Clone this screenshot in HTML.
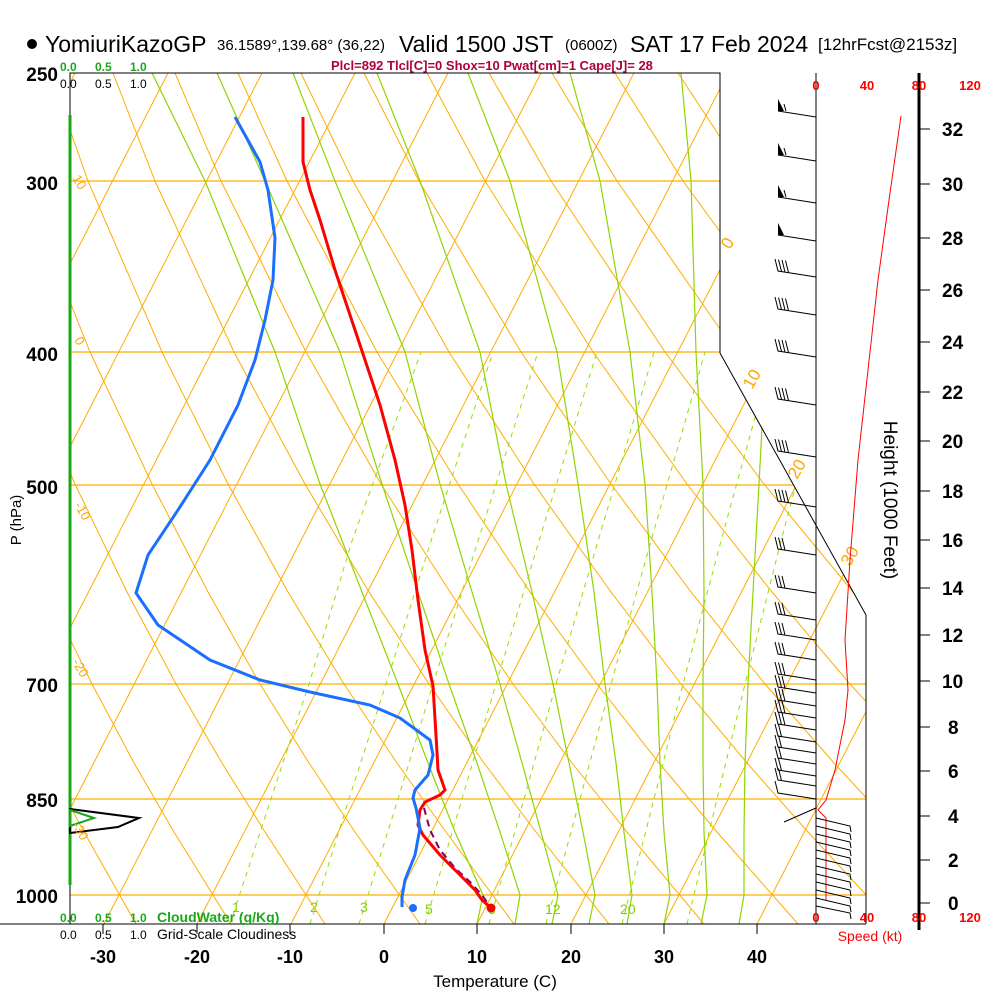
<!DOCTYPE html>
<html><head><meta charset="utf-8">
<style>
html,body{margin:0;padding:0;background:#fff;}
svg{display:block;font-family:"Liberation Sans",sans-serif;}
</style></head>
<body>
<svg width="1000" height="1000" viewBox="0 0 1000 1000" xmlns="http://www.w3.org/2000/svg">
<defs>
<clipPath id="cp"><polygon points="70,73 720,73 720,353 866,615 866,924 70,924"/></clipPath>
</defs>
<g clip-path="url(#cp)" fill="none">
<g stroke="#ffad00" stroke-width="1.3">
<line x1="70" y1="181" x2="870" y2="181"/><line x1="70" y1="352" x2="870" y2="352"/><line x1="70" y1="485" x2="870" y2="485"/><line x1="70" y1="684" x2="870" y2="684"/><line x1="70" y1="799" x2="870" y2="799"/><line x1="70" y1="895" x2="870" y2="895"/>
</g>
<g stroke="#ffad00" stroke-width="1">
<line x1="-642" y1="924" x2="-205" y2="73"/>
<line x1="-549" y1="924" x2="-112" y2="73"/>
<line x1="-455" y1="924" x2="-18" y2="73"/>
<line x1="-362" y1="924" x2="75" y2="73"/>
<line x1="-269" y1="924" x2="168" y2="73"/>
<line x1="-175" y1="924" x2="262" y2="73"/>
<line x1="-82" y1="924" x2="355" y2="73"/>
<line x1="11" y1="924" x2="448" y2="73"/>
<line x1="104" y1="924" x2="541" y2="73"/>
<line x1="197" y1="924" x2="634" y2="73"/>
<line x1="291" y1="924" x2="728" y2="73"/>
<line x1="384" y1="924" x2="821" y2="73"/>
<line x1="477" y1="924" x2="914" y2="73"/>
<line x1="571" y1="924" x2="1008" y2="73"/>
<line x1="664" y1="924" x2="1101" y2="73"/>
<line x1="757" y1="924" x2="1194" y2="73"/>
</g>
<g stroke="#ffad00" stroke-width="1">
<polyline points="41,924 -7,832 -41,763 -77,684 -115,592 -154,484 -197,352 -242,181 -264,73"/>
<polyline points="136,924 84,832 47,763 8,684 -34,592 -78,484 -125,352 -176,181 -202,73"/>
<polyline points="231,924 174,832 134,763 92,684 47,592 -1,484 -53,352 -110,181 -139,73"/>
<polyline points="325,924 265,832 222,763 176,684 127,592 75,484 18,352 -44,181 -76,73"/>
<polyline points="420,924 355,832 309,763 260,684 208,592 152,484 90,352 22,181 -13,73"/>
<polyline points="514,924 446,832 397,763 344,684 288,592 228,484 162,352 88,181 50,73"/>
<polyline points="609,924 536,832 484,763 429,684 369,592 305,484 234,352 155,181 113,73"/>
<polyline points="704,924 627,832 572,763 513,684 450,592 381,484 306,352 221,181 175,73"/>
<polyline points="798,924 717,832 659,763 597,684 530,592 458,484 377,352 287,181 238,73"/>
<polyline points="893,924 808,832 747,763 681,684 611,592 534,484 449,352 353,181 301,73"/>
<polyline points="987,924 898,832 834,763 765,684 691,592 611,484 521,352 419,181 364,73"/>
<polyline points="1082,924 989,832 922,763 850,684 772,592 687,484 593,352 485,181 427,73"/>
<polyline points="1177,924 1079,832 1009,763 934,684 853,592 764,484 665,352 551,181 489,73"/>
<polyline points="1100,763 1018,684 933,592 840,484 736,352 617,181 552,73"/>
<polyline points="1014,592 917,484 808,352 683,181 615,73"/>
<polyline points="993,484 880,352 749,181 678,73"/>
</g>
<!-- moist adiabats -->
<g stroke="#8fd400" stroke-width="1.2">
<polyline points="477,924 483,895 455,832 428,763 398,684 362,592 320,484 275,352 205,181 152,73"/>
<polyline points="515,924 520,895 500,832 477,763 449,684 418,592 382,484 340,352 265,181 217,73"/>
<polyline points="552,924 558,895 541,832 522,763 500,684 472,592 440,484 405,352 335,181 293,73"/>
<polyline points="589,924 595,895 583,832 569,763 553,684 532,592 506,484 480,352 420,181 377,73"/>
<polyline points="627,924 632,895 624,832 616,763 605,684 594,592 578,484 557,352 510,181 468,73"/>
<polyline points="664,924 670,895 664,832 660,763 657,684 652,592 645,484 630,352 600,181 570,73"/>
<polyline points="701,924 707,895 704,832 703,763 703,684 704,592 703,484 696,352 691,181 681,73"/>
<polyline points="739,924 744,895 744,832 745,763 748,684 753,592 759,484 766,352 775,181 774,73"/>
</g>
<g stroke="#99dd00" stroke-width="1" stroke-dasharray="5,5">
<polyline points="230,924 271,799 309,684 352,541 421,352"/>
<polyline points="310,924 349,799 386,684 431,541 493,352"/>
<polyline points="359,924 398,799 433,684 478,541 538,352"/>
<polyline points="425,924 462,799 496,684 539,541 597,352"/>
<polyline points="489,924 524,799 556,684 598,541 654,352"/>
<polyline points="546,924 580,799 611,684 651,541 705,352"/>
<polyline points="622,924 654,799 683,684 721,541 773,352"/>
<polyline points="687,924 717,799 745,684 781,541 831,352"/>
</g>
</g>
<polyline points="70,924 70,73 720,73 720,353 866,615 866,924" fill="none" stroke="#000" stroke-width="1"/>
<line x1="0" y1="924" x2="866" y2="924" stroke="#000" stroke-width="1"/>
<line x1="70" y1="115" x2="70" y2="885" stroke="#1aa81a" stroke-width="3"/>
<line x1="816" y1="73" x2="816" y2="924" stroke="#000" stroke-width="1"/>
<line x1="919" y1="73" x2="919" y2="930" stroke="#000" stroke-width="3"/>
<g stroke="#000"><line x1="103" y1="924" x2="103" y2="934"/><line x1="197" y1="924" x2="197" y2="934"/><line x1="290" y1="924" x2="290" y2="934"/><line x1="384" y1="924" x2="384" y2="934"/><line x1="477" y1="924" x2="477" y2="934"/><line x1="571" y1="924" x2="571" y2="934"/><line x1="664" y1="924" x2="664" y2="934"/><line x1="757" y1="924" x2="757" y2="934"/></g>
<polygon points="70,809 139,818 118,827 70,833" fill="none" stroke="#000" stroke-width="2"/>
<polygon points="70,810 94,818 70,826" fill="none" stroke="#1aa81a" stroke-width="2"/>
<circle cx="32" cy="44" r="5" fill="#000"/>
<text x="45" y="52" font-size="23">YomiuriKazoGP</text>
<text x="217" y="50" font-size="15">36.1589°,139.68° (36,22)</text>
<text x="399" y="52" font-size="23">Valid 1500 JST</text>
<text x="565" y="50" font-size="15">(0600Z)</text>
<text x="630" y="52" font-size="23">SAT 17 Feb 2024</text>
<text x="818" y="50" font-size="17">[12hrFcst@2153z]</text>
<text x="331" y="70" font-size="13" font-weight="bold" fill="#b0003a">Plcl=892 Tlcl[C]=0 Shox=10 Pwat[cm]=1 Cape[J]= 28</text>
<g font-size="12" fill="#1aa81a" font-weight="bold"><text x="60" y="71">0.0</text><text x="95" y="71">0.5</text><text x="130" y="71">1.0</text></g>
<g font-size="12" fill="#000"><text x="60" y="88">0.0</text><text x="95" y="88">0.5</text><text x="130" y="88">1.0</text></g>
<g font-size="12" fill="#1aa81a" font-weight="bold"><text x="60" y="922">0.0</text><text x="95" y="922">0.5</text><text x="130" y="922">1.0</text><text x="157" y="922" font-size="14">CloudWater (g/Kg)</text></g>
<g font-size="12" fill="#000"><text x="60" y="939">0.0</text><text x="95" y="939">0.5</text><text x="130" y="939">1.0</text><text x="157" y="939" font-size="14">Grid-Scale Cloudiness</text></g>
<g font-size="19" font-weight="bold" text-anchor="end" fill="#000"><text x="58" y="81">250</text><text x="58" y="190">300</text><text x="58" y="361">400</text><text x="58" y="494">500</text><text x="58" y="692">700</text><text x="58" y="807">850</text><text x="58" y="903">1000</text></g>
<text x="21" y="520" font-size="15" transform="rotate(-90 21 520)" text-anchor="middle">P (hPa)</text>
<g font-size="18" font-weight="bold" text-anchor="middle"><text x="103" y="963">-30</text><text x="197" y="963">-20</text><text x="290" y="963">-10</text><text x="384" y="963">0</text><text x="477" y="963">10</text><text x="571" y="963">20</text><text x="664" y="963">30</text><text x="757" y="963">40</text></g>
<text x="495" y="987" font-size="17" text-anchor="middle">Temperature (C)</text>
<g font-size="13" font-weight="bold" fill="#f00" text-anchor="middle"><text x="816" y="90">0</text><text x="867" y="90">40</text><text x="919" y="90">80</text><text x="970" y="90">120</text>
<text x="816" y="922">0</text><text x="867" y="922">40</text><text x="919" y="922">80</text><text x="970" y="922">120</text></g>
<text x="870" y="941" font-size="14" fill="#f00" text-anchor="middle">Speed (kt)</text>
<g font-size="19" font-weight="bold" fill="#000">
<text x="942" y="136">32</text><text x="942" y="191">30</text><text x="942" y="245">28</text><text x="942" y="297">26</text><text x="942" y="349">24</text><text x="942" y="399">22</text><text x="942" y="448">20</text><text x="942" y="498">18</text><text x="942" y="547">16</text><text x="942" y="595">14</text><text x="942" y="642">12</text><text x="942" y="688">10</text><text x="948" y="734">8</text><text x="948" y="778">6</text><text x="948" y="823">4</text><text x="948" y="867">2</text><text x="948" y="910">0</text></g>
<g stroke="#000"><line x1="919" y1="129" x2="930" y2="129"/><line x1="919" y1="184" x2="930" y2="184"/><line x1="919" y1="238" x2="930" y2="238"/><line x1="919" y1="290" x2="930" y2="290"/><line x1="919" y1="342" x2="930" y2="342"/><line x1="919" y1="392" x2="930" y2="392"/><line x1="919" y1="441" x2="930" y2="441"/><line x1="919" y1="491" x2="930" y2="491"/><line x1="919" y1="540" x2="930" y2="540"/><line x1="919" y1="588" x2="930" y2="588"/><line x1="919" y1="635" x2="930" y2="635"/><line x1="919" y1="681" x2="930" y2="681"/><line x1="919" y1="727" x2="930" y2="727"/><line x1="919" y1="771" x2="930" y2="771"/><line x1="919" y1="816" x2="930" y2="816"/><line x1="919" y1="860" x2="930" y2="860"/><line x1="919" y1="903" x2="930" y2="903"/></g>
<text x="884" y="500" font-size="19" transform="rotate(90 884 500)" text-anchor="middle">Height (1000 Feet)</text>
<g font-size="17" fill="#ffa500">
<text x="730" y="250" transform="rotate(-60 730 250)">0</text>
<text x="752" y="390" transform="rotate(-60 752 390)">10</text>
<text x="797" y="480" transform="rotate(-60 797 480)">20</text>
<text x="850" y="567" transform="rotate(-60 850 567)">30</text>
<text x="72" y="178" font-size="13" transform="rotate(60 72 178)">10</text>
<text x="74" y="340" font-size="13" transform="rotate(60 74 340)">0</text>
<text x="74" y="505" font-size="13" transform="rotate(60 74 505)">-10</text>
<text x="72" y="662" font-size="13" transform="rotate(60 72 662)">-20</text>
<text x="72" y="825" font-size="13" transform="rotate(60 72 825)">-30</text>
</g>
<g font-size="14" fill="#88cc00">
<text x="232" y="912">1</text><text x="310" y="912">2</text><text x="360" y="912">3</text><text x="425" y="914">5</text><text x="488" y="914">8</text><text x="545" y="914">12</text><text x="620" y="914">20</text></g>
<polyline points="901,116 889,200 878,280 868,370 858,460 850,560 845,640 848,690 845,720 835,770 826,800 818,810 826,818 826,900" fill="none" stroke="#f00" stroke-width="1"/>
<path fill="#000" d="M778,111 l0,-12 l6,12z M778,155 l0,-12 l6,12z M778,197 l0,-12 l6,12z M778,235 l0,-12 l6,12z"/>
<path fill="none" stroke="#000" stroke-width="1" d="
M816,117L778,111 M786,111l-2,-7 M816,161L778,155 M786,155l-2,-7 M816,203L778,197 M786,197l-2,-7 M816,241L778,235
M816,277L778,271l-3,-12m6.5,12.5l-3,-12m6.5,12.5l-3,-12m6.5,12.5l-3,-12
M816,315L778,309l-3,-12m6.5,12.5l-3,-12m6.5,12.5l-3,-12m6.5,12.5l-3,-12
M816,357L778,351l-3,-12m6.5,12.5l-3,-12m6.5,12.5l-3,-12m6.5,12.5l-3,-12
M816,405L778,399l-3,-12m6.5,12.5l-3,-12m6.5,12.5l-3,-12m6.5,12.5l-3,-12
M816,457L778,451l-3,-12m6.5,12.5l-3,-12m6.5,12.5l-3,-12m6.5,12.5l-3,-12
M816,507L778,501l-3,-12m6.5,12.5l-3,-12m6.5,12.5l-3,-12m6.5,12.5l-3,-12
M816,555L778,549l-3,-12m6.5,12.5l-3,-12m6.5,12.5l-3,-12
M816,593L778,587l-3,-12m6.5,12.5l-3,-12m6.5,12.5l-3,-12
M816,620L778,614l-3,-12m6.5,12.5l-3,-12m6.5,12.5l-3,-12
M816,640L778,634l-3,-12m6.5,12.5l-3,-12m6.5,12.5l-3,-12
M816,660L778,654l-3,-12m6.5,12.5l-3,-12m6.5,12.5l-3,-12
M816,680L778,674l-3,-12m6.5,12.5l-3,-12m6.5,12.5l-3,-12
M816,693L778,687l-3,-12m6.5,12.5l-3,-12m6.5,12.5l-3,-12
M816,706L778,700l-3,-12m6.5,12.5l-3,-12m6.5,12.5l-3,-12
M816,718L778,712l-3,-12m6.5,12.5l-3,-12m6.5,12.5l-3,-12
M816,730L778,724l-3,-12m6.5,12.5l-3,-12m6.5,12.5l-3,-12
M816,742L778,736l-3,-12m6.5,12.5l-3,-12
M816,753L778,747l-3,-12m6.5,12.5l-3,-12
M816,764L778,758l-3,-12m6.5,12.5l-3,-12
M816,776L778,770l-3,-12m6.5,12.5l-3,-12
M816,786L778,780l-3,-12m6.5,12.5l-3,-12
M816,799L778,793l-3,-12
M816,808L784,822
M816,818L850,826l1,6 M816,826L850,834l1,6 M816,834L850,842l1,6 M816,842L850,850l1,6 M816,850L850,858l1,6 M816,858L850,866l1,6 M816,866L850,874l1,6 M816,874L850,882l1,6 M816,882L850,890l1,6 M816,890L850,898l1,6 M816,898L850,906l1,6 M816,906L850,913l1,6"/>
<polyline points="424,808 430,830 440,850 455,868 470,882 482,895 491,908" fill="none" stroke="#800060" stroke-width="2" stroke-dasharray="7,5"/>
<polyline points="303,117 303,162 310,190 320,220 335,270 350,315 365,360 380,405 395,460 405,505 412,550 418,600 425,650 433,686 436,735 438,770 445,790 440,795 425,802 420,810 418,825 423,835 440,855 460,875 475,890 482,900 491,908" fill="none" stroke="#f00" stroke-width="3"/>
<polyline points="235,117 260,162 268,190 275,238 273,280 265,320 255,360 238,405 210,460 178,510 148,555 136,593 158,625 210,660 260,680 310,692 370,705 400,718 430,740 433,755 428,775 415,790 413,798 416,808 418,818 420,828 415,855 405,880 402,897 402,907" fill="none" stroke="#1a6fff" stroke-width="3"/>
<circle cx="491" cy="908" r="4.5" fill="#f00"/>
<circle cx="413" cy="908" r="4" fill="#1a6fff"/>
</svg>
</body></html>
